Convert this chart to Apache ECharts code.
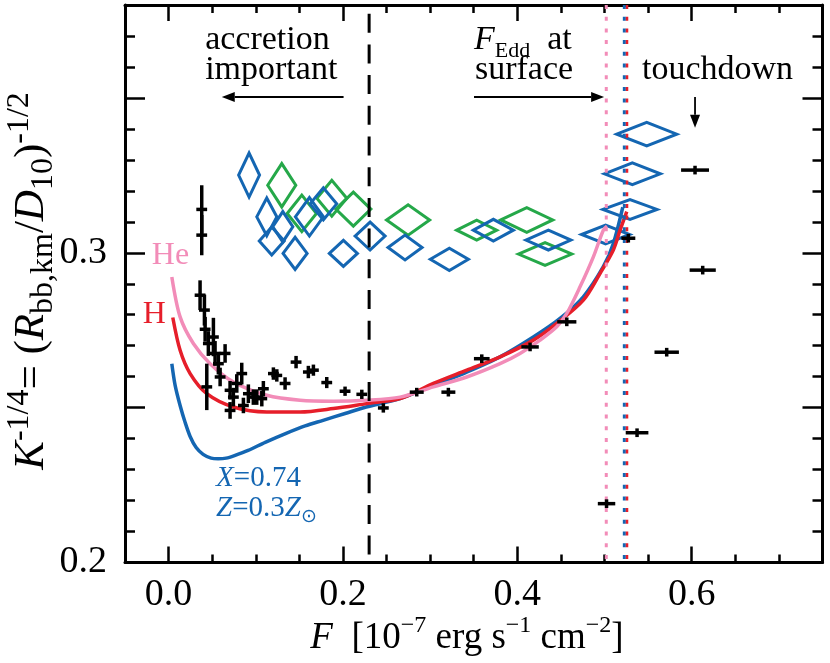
<!DOCTYPE html>
<html><head><meta charset="utf-8">
<script src="https://cdn.jsdelivr.net/npm/echarts@6/dist/echarts.min.js"></script>
<style>html,body{margin:0;padding:0;background:#fff}#c{width:830px;height:663px}</style>
</head><body><div id="c"></div>
<script>
// ---------------- data ----------------
const xTickLabels = [0.0, 0.2, 0.4, 0.6];
const xMajorTicks = [0.0, 0.2, 0.4, 0.6];
const yTickLabels = [0.2, 0.3];
const yMajorTicks = [0.25, 0.3, 0.35];

// black error-bar crosses
const crossX   = [0.038, 0.038, 0.0361, 0.0411, 0.0419, 0.0456, 0.0514, 0.0533, 0.0571, 0.0591, 0.0648, 0.0438, 0.0705, 0.0743, 0.0782, 0.0839, 0.0705, 0.0858, 0.0915, 0.0972, 0.1011, 0.1069, 0.1087, 0.1202, 0.1241, 0.1336, 0.1462, 0.1603, 0.1661, 0.1814, 0.2024, 0.2216, 0.2463, 0.2846, 0.3209, 0.3592, 0.4146, 0.4567, 0.5273, 0.6038, 0.6126, 0.5713, 0.5373, 0.5023];
const crossY   = [0.314, 0.3057, 0.2863, 0.2815, 0.2753, 0.2707, 0.2728, 0.2675, 0.2642, 0.2599, 0.2675, 0.2567, 0.2556, 0.2534, 0.2578, 0.2610, 0.2491, 0.2507, 0.2545, 0.2534, 0.2534, 0.2529, 0.2561, 0.2610, 0.2604, 0.2578, 0.2647, 0.2615, 0.2621, 0.2581, 0.2553, 0.2543, 0.2499, 0.2550, 0.2550, 0.2658, 0.2696, 0.2777, 0.3047, 0.3267, 0.2944, 0.2679, 0.2419, 0.2190];
const crossXErr = [0.0062, 0.0062, 0.0062, 0.0062, 0.0062, 0.0062, 0.0062, 0.0062, 0.0062, 0.0062, 0.0062, 0.0062, 0.0062, 0.0062, 0.0062, 0.0062, 0.0062, 0.0062, 0.0062, 0.0062, 0.0062, 0.0062, 0.0062, 0.0062, 0.0062, 0.0062, 0.0062, 0.0062, 0.0062, 0.0062, 0.0062, 0.0062, 0.0062, 0.008, 0.008, 0.009, 0.010, 0.011, 0.008, 0.016, 0.015, 0.014, 0.013, 0.010];
const crossYErr = [0.0078, 0.0065, 0.0048, 0.005, 0.004, 0.004, 0.0062, 0.004, 0.0035, 0.003, 0.003, 0.0075, 0.003, 0.003, 0.003, 0.0035, 0.0027, 0.0025, 0.003, 0.0025, 0.0025, 0.0025, 0.0025, 0.002, 0.002, 0.002, 0.002, 0.002, 0.0018, 0.0018, 0.0015, 0.0015, 0.0015, 0.0014, 0.0014, 0.0014, 0.0014, 0.0014, 0.0014, 0.0014, 0.0014, 0.0014, 0.0014, 0.0014];

// blue diamonds (centre, half-width, half-height)
const blueDX    = [0.0923, 0.1126, 0.1310, 0.1183, 0.1451, 0.1615, 0.1775, 0.2005, 0.2311, 0.2712, 0.3220, 0.3725, 0.4356, 0.5012, 0.5292, 0.5319, 0.5484];
const blueDY    = [0.3251, 0.3116, 0.3084, 0.3038, 0.2998, 0.3116, 0.3158, 0.2998, 0.3054, 0.3017, 0.2979, 0.3073, 0.3041, 0.3059, 0.3140, 0.3255, 0.3383];
const blueDXErr = [0.0120, 0.0115, 0.0115, 0.0143, 0.0138, 0.0161, 0.0153, 0.0161, 0.0172, 0.0195, 0.0218, 0.0229, 0.0258, 0.0275, 0.0310, 0.0321, 0.0344];
const blueDYErr = [0.0071, 0.0061, 0.0049, 0.0045, 0.0052, 0.0062, 0.0052, 0.0042, 0.0045, 0.0040, 0.0036, 0.0035, 0.0032, 0.0030, 0.0032, 0.0035, 0.0038];

// green diamonds
const greenDX    = [0.1298, 0.1528, 0.1872, 0.2119, 0.2747, 0.3534, 0.4108, 0.4318];
const greenDY    = [0.3218, 0.3127, 0.3176, 0.3141, 0.3106, 0.3073, 0.3106, 0.2996];
const greenDXErr = [0.0161, 0.0168, 0.0172, 0.0201, 0.0247, 0.0229, 0.0298, 0.0306];
const greenDYErr = [0.0070, 0.0059, 0.0058, 0.0055, 0.0049, 0.0032, 0.0040, 0.0037];

// model curves
const heX = [0.0037, 0.0132, 0.0284, 0.0476, 0.0743, 0.1126, 0.1508, 0.1890, 0.2273, 0.2655, 0.3037, 0.3420, 0.3802, 0.4031, 0.4260, 0.4452, 0.4567, 0.4719, 0.4872, 0.4986, 0.5029];
const heY = [0.2922, 0.2793, 0.2707, 0.2642, 0.2583, 0.2540, 0.2524, 0.2521, 0.2524, 0.2534, 0.2567, 0.2599, 0.2642, 0.2675, 0.2718, 0.2761, 0.2804, 0.2890, 0.2987, 0.3073, 0.3086];
const hX  = [0.0048, 0.0132, 0.0247, 0.0438, 0.0743, 0.1126, 0.1508, 0.1890, 0.2273, 0.2655, 0.3037, 0.3420, 0.3802, 0.4183, 0.4452, 0.4757, 0.4948, 0.5101, 0.5178, 0.5255];
const hY  = [0.2791, 0.2685, 0.2610, 0.2545, 0.2502, 0.2486, 0.2486, 0.2497, 0.2513, 0.2529, 0.2578, 0.2621, 0.2664, 0.2718, 0.2772, 0.2847, 0.2933, 0.3009, 0.3073, 0.3133];
const xzX = [0.0037, 0.0075, 0.0132, 0.0190, 0.0247, 0.0316, 0.0396, 0.0488, 0.0568, 0.0660, 0.0763, 0.0912, 0.1108, 0.1348, 0.1566, 0.1772, 0.2024, 0.2266, 0.2655, 0.3037, 0.3420, 0.3802, 0.4183, 0.4490, 0.4757, 0.4986, 0.5101, 0.5209];
const xzY = [0.2642, 0.2572, 0.2507, 0.2452, 0.2407, 0.2371, 0.2349, 0.2337, 0.2335, 0.2337, 0.2346, 0.2362, 0.2388, 0.2417, 0.2441, 0.2459, 0.2481, 0.2502, 0.2529, 0.2572, 0.2615, 0.2664, 0.2728, 0.2788, 0.2858, 0.2955, 0.3030, 0.3147];

// vertical reference lines
const accretionLimitX = 0.23;
const eddHeX = 0.502;
const eddBlueX = 0.5227;
const eddRedX = 0.5258;

// ---------------- styling / layout ----------------
const FONT = 'Liberation Serif';
const BLACK = '#000000', BLUE = '#1466B2', GREEN = '#25A849', RED = '#E61E2A', PINK = '#F28CB8';
const xMin = -0.05, xMax = 0.75, yMin = 0.2, yMax = 0.38;

function rich(size, color, ratio) {
  const sub = Math.round(size * (ratio || 0.66));
  return {
    r:   {fontFamily: FONT, fontSize: size, fill: color, color: color, lineHeight: Math.round(size * 1.3)},
    i:   {fontFamily: FONT, fontSize: size, fontStyle: 'italic', fill: color, color: color, lineHeight: Math.round(size * 1.3)},
    sub: {fontFamily: FONT, fontSize: sub, fill: color, color: color, verticalAlign: 'bottom', lineHeight: sub},
    sup: {fontFamily: FONT, fontSize: sub, fill: color, color: color, verticalAlign: 'top', lineHeight: sub}
  };
}

const notes = [
  {text: '{r|accretion}', x: 0.0419, y: 0.3687, color: BLACK, size: 34},
  {text: '{r|important}', x: 0.0419, y: 0.3590, color: BLACK, size: 34},
  {text: '{i|F}{sub|Edd}{r|  at}', x: 0.3503, y: 0.3687, color: BLACK, size: 34},
  {text: '{r|surface}', x: 0.3514, y: 0.3590, color: BLACK, size: 34},
  {text: '{r|touchdown}', x: 0.5430, y: 0.3590, color: BLACK, size: 34},
  {text: '{r|He}', x: -0.0193, y: 0.2990, color: PINK, size: 32},
  {text: '{r|H}', x: -0.0296, y: 0.2802, color: RED, size: 32},
  {text: '{i|X}{r|=0.74}', x: 0.0545, y: 0.2273, color: BLUE, size: 29},
  {text: '{i|Z}{r|=0.3}{i|Z}{sub|\u2299}', x: 0.0545, y: 0.2176, color: BLUE, size: 29}
];
const arrowFrom = [[0.2007, 0.3503], [0.3503, 0.3503], [0.6038, 0.3503]];
const arrowTo   = [[0.0610, 0.3503], [0.4995, 0.3503], [0.6038, 0.3404]];

function mkX(pos, major, labels) {
  const ax = {
    type: 'value', position: pos, min: xMin, max: xMax,
    axisLine: {show: !major, onZero: false, lineStyle: {color: BLACK, width: 3}},
    axisTick: {show: true, inside: true, length: major ? 16 : 8, lineStyle: {color: BLACK, width: 2.5}},
    axisLabel: labels ? {show: true, customValues: xTickLabels, formatter: v => Number(v).toFixed(1), color: BLACK, fontFamily: FONT, fontSize: 38, margin: 14} : {show: false},
    splitLine: {show: false}
  };
  if (major) ax.axisTick.customValues = xMajorTicks; else ax.interval = 0.05;
  return ax;
}
function mkY(pos, major, labels) {
  const ax = {
    type: 'value', position: pos, min: yMin, max: yMax,
    axisLine: {show: !major, onZero: false, lineStyle: {color: BLACK, width: 3}},
    axisTick: {show: true, inside: true, length: major ? 20 : 10, lineStyle: {color: BLACK, width: 2.5}},
    axisLabel: labels ? {show: true, customValues: yTickLabels, formatter: v => Number(v).toFixed(1), color: BLACK, fontFamily: FONT, fontSize: 38, margin: 18} : {show: false},
    splitLine: {show: false}
  };
  if (major) ax.axisTick.customValues = yMajorTicks; else ax.interval = 0.01;
  return ax;
}

function diamondSeries(name, xs, ys, dxs, dys, color) {
  return {
    type: 'custom', name: name, xAxisIndex: 0, yAxisIndex: 0,
    dimensions: ['x', 'y', 'dx', 'dy'], encode: {x: 0, y: 1},
    data: xs.map((v, i) => [v, ys[i], dxs[i], dys[i]]),
    renderItem: function (params, api) {
      const x = api.value(0), y = api.value(1), dx = api.value(2), dy = api.value(3);
      const pts = [api.coord([x - dx, y]), api.coord([x, y + dy]), api.coord([x + dx, y]), api.coord([x, y - dy])];
      return {type: 'polygon', shape: {points: pts}, style: {fill: 'none', stroke: color, lineWidth: 3, lineJoin: 'miter'}};
    },
    z: 3, silent: true
  };
}

function curve(name, xs, ys, color) {
  return {type: 'line', name: name, data: xs.map((v, i) => [v, ys[i]]), showSymbol: false, smooth: 0.3,
    lineStyle: {color: color, width: 3.5}, z: 4, silent: true};
}
function vline(x, color, dash, offset, width) {
  return {type: 'line', data: [[x, yMax], [x, yMin]], showSymbol: false,
    lineStyle: {color: color, width: width, type: dash, dashOffset: offset, cap: 'butt'}, z: 5, silent: true};
}

const chart = echarts.init(document.getElementById('c'), null, {renderer: 'canvas'});
const option = {
  animation: false,
  backgroundColor: '#ffffff',
  textStyle: {fontFamily: FONT},
  grid: {left: 125, right: 7.5, top: 5, bottom: 100.5, containLabel: false, outerBoundsMode: 'none'},
  xAxis: [mkX('bottom', false, true), mkX('bottom', true, false), mkX('top', false, false), mkX('top', true, false)],
  yAxis: [mkY('left', false, true), mkY('left', true, false), mkY('right', false, false), mkY('right', true, false)],
  graphic: [
    {type: 'text', x: 467, y: 638, z: 10,
      style: {text: '{i|F}{r|  [10}{sup|\u22127}{r| erg s}{sup|\u22121}{r| cm}{sup|\u22122}{r|]}', rich: rich(37, BLACK),
        align: 'center', verticalAlign: 'middle'}},
    {type: 'text', x: 32, y: 281, rotation: Math.PI / 2, z: 10,
      style: {text: '{i|K}{sup|-1/4}{r|= (}{i|R}{sub|bb,km}{r|/}{i|D}{sub|10}{r|)}{sup|-1/2}', rich: rich(43, BLACK, 0.74),
        align: 'center', verticalAlign: 'middle'}}
  ],
  series: [
    diamondSeries('green', greenDX, greenDY, greenDXErr, greenDYErr, GREEN),
    diamondSeries('blue', blueDX, blueDY, blueDXErr, blueDYErr, BLUE),
    {
      type: 'custom', name: 'data', xAxisIndex: 0, yAxisIndex: 0,
      dimensions: ['x', 'y', 'ex', 'ey'], encode: {x: 0, y: 1},
      data: crossX.map((v, i) => [v, crossY[i], crossXErr[i], crossYErr[i]]),
      renderItem: function (params, api) {
        const x = api.value(0), y = api.value(1), ex = api.value(2), ey = api.value(3);
        const l = api.coord([x - ex, y]), r = api.coord([x + ex, y]);
        const b = api.coord([x, y - ey]), t = api.coord([x, y + ey]);
        return {type: 'group', children: [
          {type: 'line', shape: {x1: l[0], y1: l[1], x2: r[0], y2: r[1]}, style: {stroke: BLACK, lineWidth: 3.5}},
          {type: 'line', shape: {x1: b[0], y1: b[1], x2: t[0], y2: t[1]}, style: {stroke: BLACK, lineWidth: 3.5}}
        ]};
      },
      z: 6, silent: true
    },
    curve('X=0.74', xzX, xzY, BLUE),
    curve('H', hX, hY, RED),
    curve('He', heX, heY, PINK),
    vline(accretionLimitX, BLACK, [19, 11.7], 22, 3),
    vline(eddHeX, PINK, [4, 7.7], 0, 3),
    vline(eddBlueX, BLUE, [4, 7.7], 0, 3),
    vline(eddRedX, RED, [4, 7.7], 0, 2.5),
    {
      type: 'custom', name: 'arrows', xAxisIndex: 0, yAxisIndex: 0,
      dimensions: ['x1', 'y1', 'x2', 'y2'], encode: {x: 0, y: 1},
      data: arrowFrom.map((p, i) => [p[0], p[1], arrowTo[i][0], arrowTo[i][1]]),
      renderItem: function (params, api) {
        const a = api.coord([api.value(0), api.value(1)]), b = api.coord([api.value(2), api.value(3)]);
        const dx = b[0] - a[0], dy = b[1] - a[1], len = Math.hypot(dx, dy);
        const ux = dx / len, uy = dy / len, hl = 13, hw = 5;
        const base = [b[0] - ux * hl, b[1] - uy * hl];
        return {type: 'group', children: [
          {type: 'line', shape: {x1: a[0], y1: a[1], x2: base[0], y2: base[1]}, style: {stroke: BLACK, lineWidth: 1.8}},
          {type: 'polygon', shape: {points: [b, [base[0] - uy * hw, base[1] + ux * hw], [base[0] + uy * hw, base[1] - ux * hw]]}, style: {fill: BLACK}}
        ]};
      },
      z: 7, silent: true
    },
    {
      type: 'custom', name: 'notes', xAxisIndex: 0, yAxisIndex: 0,
      dimensions: ['x', 'y'], encode: {x: 0, y: 1},
      data: notes.map(n => [n.x, n.y]),
      renderItem: function (params, api) {
        const n = notes[params.dataIndex];
        const p = api.coord([api.value(0), api.value(1)]);
        return {type: 'text', x: p[0], y: p[1], style: {text: n.text, rich: rich(n.size, n.color), fill: n.color,
          fontFamily: FONT, fontSize: n.size, align: 'left', verticalAlign: 'middle'}};
      },
      z: 8, silent: true
    }
  ]
};
chart.setOption(option);
</script>
</body></html>
